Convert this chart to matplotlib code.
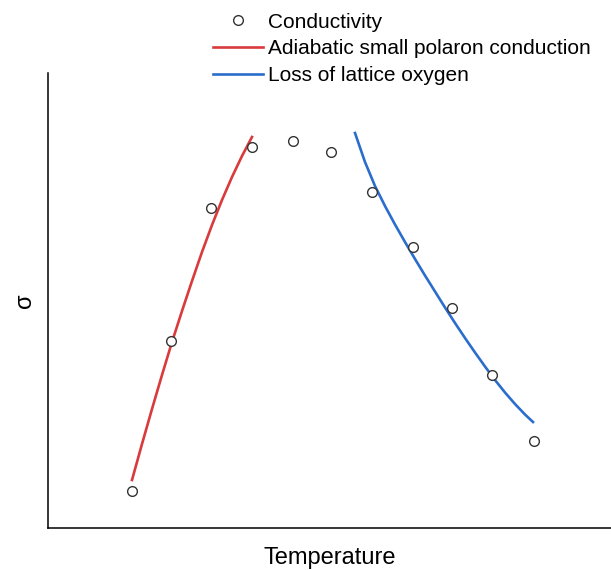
import matplotlib
matplotlib.use('Agg')
import matplotlib.pyplot as plt

plt.rcParams['font.family'] = ['Liberation Sans', 'DejaVu Sans']

# measured conductivity points (arbitrary units)
temp = [84, 123, 163, 204, 245, 283, 324, 365, 404, 444, 486]
sigma = [37, 187, 320, 381, 387, 376, 336, 281, 220, 153, 87]

# fitted curves
temp_ad = [84, 94, 104, 114, 124, 134, 144, 154, 164, 174, 184, 194, 204]
sigma_ad = [48, 84, 119, 153, 186, 217, 247, 276, 303, 328, 351, 372, 391]
temp_ox = [307, 317, 327, 337, 347, 357, 367, 377, 387, 397, 407, 417, 427,
           437, 447, 457, 467, 477, 485]
sigma_ox = [395, 366, 342, 322, 303.5, 286, 269, 252.5, 236.5, 220.5, 205,
            190, 175.5, 161.5, 148, 135.5, 124, 113.5, 106]

fig = plt.figure(figsize=(6.11, 5.70), dpi=100)
ax = fig.add_axes([48/611, 42/570, 563/611, 455/570])

sc, = ax.plot(temp, sigma, 'o', ms=7, mfc='white', mec='#333333', mew=1.0,
              label='Conductivity', zorder=3)
l1, = ax.plot(temp_ad, sigma_ad, color='#d93a3c', lw=1.9,
              label='Adiabatic small polaron conduction')
l2, = ax.plot(temp_ox, sigma_ox, color='#2a6dcc', lw=1.9,
              label='Loss of lattice oxygen')

ax.set_xlim(0, 563)
ax.set_ylim(0, 455)
ax.set_xticks([])
ax.set_yticks([])
ax.spines['top'].set_visible(False)
ax.spines['right'].set_visible(False)
ax.spines['left'].set_linewidth(1.1)
ax.spines['bottom'].set_linewidth(1.1)

ax.set_xlabel('Temperature', fontsize=17, labelpad=14)
ax.set_ylabel('σ', fontsize=17, labelpad=9)

fig.legend(handles=[sc, l1, l2], loc='upper left',
           bbox_to_anchor=(213/611, 1 - 12.5/570), frameon=False, fontsize=15,
           handlelength=2.4, handletextpad=0.24, labelspacing=0.37,
           borderaxespad=0, borderpad=0)

fig.savefig('out.png', dpi=100)
